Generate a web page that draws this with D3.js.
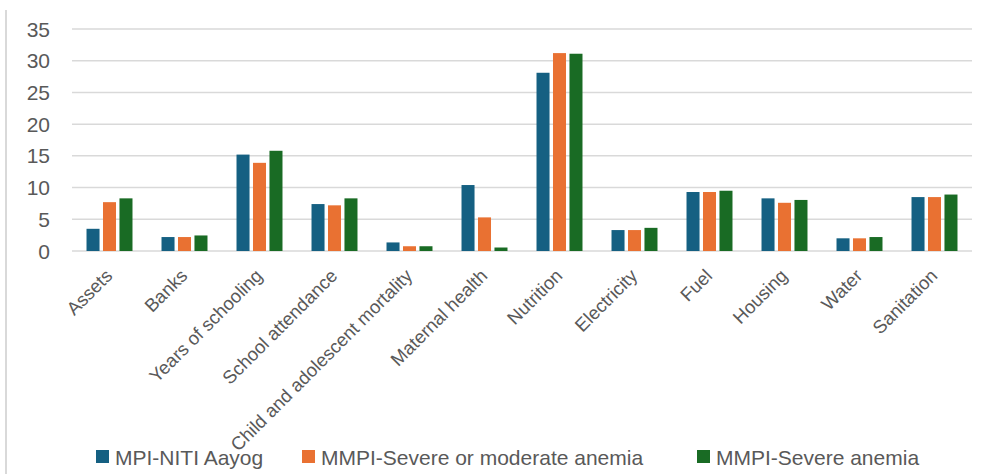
<!DOCTYPE html>
<html>
<head>
<meta charset="utf-8">
<script src="https://cdn.jsdelivr.net/npm/d3@7"></script>
<style>
  html, body { margin: 0; padding: 0; background: #fff; }
  svg { display: block; }
  text { font-family: "Liberation Sans", Arial, sans-serif; fill: #595959; }
</style>
</head>
<body>
<svg id="chart" width="992" height="474"></svg>
<script>
const categories = ["Assets", "Banks", "Years of schooling", "School attendance",
  "Child and adolescent mortality", "Maternal health", "Nutrition", "Electricity",
  "Fuel", "Housing", "Water", "Sanitation"];
const seriesNames = ["MPI-NITI Aayog", "MMPI-Severe or moderate anemia", "MMPI-Severe anemia"];
const mpiNiti = [3.5, 2.2, 15.2, 7.4, 1.35, 10.4, 28.1, 3.3, 9.3, 8.3, 2.0, 8.5];
const mmpiSevereModerate = [7.7, 2.2, 13.9, 7.2, 0.75, 5.3, 31.2, 3.3, 9.3, 7.6, 2.0, 8.5];
const mmpiSevere = [8.3, 2.45, 15.8, 8.3, 0.75, 0.55, 31.1, 3.65, 9.5, 8.05, 2.2, 8.9];
const yTicks = [0, 5, 10, 15, 20, 25, 30, 35];
const colors = ["#156082", "#E97132", "#196B24"];

const seriesValues = [mpiNiti, mmpiSevereModerate, mmpiSevere];

const svg = d3.select("#chart");
const plotLeft = 72, plotRight = 972, plotTop = 29, plotBottom = 251;

// left frame line
svg.append("line")
  .attr("x1", 6).attr("x2", 6).attr("y1", 10).attr("y2", 474)
  .attr("stroke", "#d9d9d9").attr("stroke-width", 2);

const x0 = d3.scaleBand().domain(categories).range([plotLeft, plotRight])
  .paddingInner(0.387).paddingOuter(0.1935);
const x1 = d3.scaleBand().domain(d3.range(3)).range([0, x0.bandwidth()])
  .paddingInner(0.21).paddingOuter(0);
const y = d3.scaleLinear().domain([0, 35]).range([plotBottom, plotTop]);

// gridlines
svg.append("g").selectAll("line").data(yTicks).join("line")
  .attr("x1", plotLeft).attr("x2", plotRight)
  .attr("y1", d => y(d)).attr("y2", d => y(d))
  .attr("stroke", "#d9d9d9").attr("stroke-width", 1.5);

// y tick labels
svg.append("g").selectAll("text").data(yTicks).join("text")
  .attr("x", 50).attr("y", d => y(d))
  .attr("dy", "0.36em")
  .attr("text-anchor", "end")
  .style("font-size", "21px")
  .text(d => d);

// bars
const groups = svg.append("g").selectAll("g").data(categories).join("g")
  .attr("transform", d => `translate(${x0(d)},0)`);
groups.selectAll("rect")
  .data((c, i) => seriesValues.map((vals, s) => ({ s, v: vals[i] })))
  .join("rect")
  .attr("x", d => x1(d.s))
  .attr("width", x1.bandwidth())
  .attr("y", d => y(d.v))
  .attr("height", d => y(0) - y(d.v))
  .attr("fill", d => colors[d.s]);

// x labels
svg.append("g").selectAll("text").data(categories).join("text")
  .attr("transform", d => `translate(${x0(d) + x0.bandwidth() / 2 + 4},277) rotate(-45)`)
  .attr("text-anchor", "end")
  .style("font-size", "18.5px")
  .text(d => d);

// legend
const legendX = [96, 302, 697];
const legend = svg.append("g");
seriesNames.forEach((name, i) => {
  legend.append("rect")
    .attr("x", legendX[i]).attr("y", 450).attr("width", 13).attr("height", 13)
    .attr("fill", colors[i]);
  legend.append("text")
    .attr("x", legendX[i] + 19).attr("y", 465)
    .style("font-size", "21px")
    .text(name);
});
</script>
</body>
</html>
